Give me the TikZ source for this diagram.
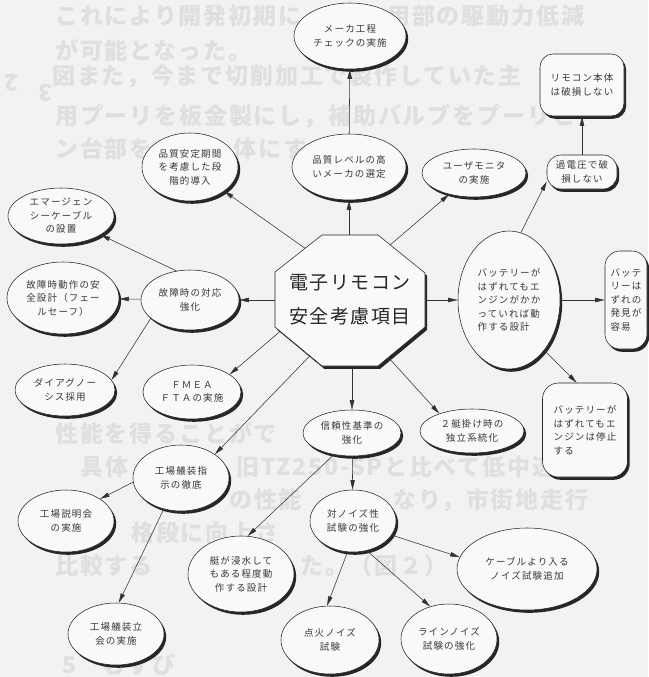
\documentclass[tikz,border=0pt]{standalone}
\usepackage{fontspec}
\usetikzlibrary{shapes.geometric,arrows.meta,calc}
\newfontfamily\jpnode{Noto Sans CJK JP}[LetterSpace=12]
\newfontfamily\jptitle{Noto Sans CJK JP}[LetterSpace=8]
\newfontfamily\jpbg{Noto Sans CJK JP}[LetterSpace=8]
\definecolor{pagebg}{gray}{0.95}
\definecolor{nodefill}{gray}{0.975}
\definecolor{bgtext}{gray}{0.875}
\colorlet{shadowcol}{black!85}
\tikzset{
  nodetext/.style={font=\jpnode\fontsize{9.5}{13.5}\selectfont, text=black!78},
  bub/.style={ellipse, draw=black!85, line width=0.55pt, fill=nodefill, inner sep=0pt,
    align=center, nodetext},
  rbox/.style={rectangle, draw=black!85, line width=0.55pt, fill=nodefill,
    inner sep=0pt, nodetext},
  arr/.style={draw=black!80, line width=0.55pt, -{Triangle[length=9.5pt,width=4.4pt]}},
  bgtxt/.style={font=\jpbg\bfseries\fontsize{23}{33}\selectfont, text=bgtext, inner sep=0pt, anchor=west},
}
% ellipse with a solid offset shadow: options, name, x, y, width, height, text
\newcommand\bubnode[7]{%
  \fill[shadowcol] ({#3+2.2},{#4+2.8}) ellipse [x radius={#5/2}, y radius={#6/2}];
  \node[bub, minimum width=#5, minimum height=#6, #1] (#2) at (#3,#4) {#7};}
% rounded box with a solid offset shadow: options, name, x, y, width, height, radius, text
\newcommand\boxnode[8]{%
  \fill[shadowcol, rounded corners=#7] ({#3-#5/2+2.2},{#4-#6/2+2.8}) rectangle ++(#5,#6);
  \node[rbox, rounded corners=#7, minimum width=#5, minimum height=#6, #1] (#2) at (#3,#4) {#8};}
\begin{document}
\begin{tikzpicture}[x=1pt,y=-1pt]
\useasboundingbox (0,0) rectangle (648,677);
\fill[pagebg] (0,0) rectangle (648,677);

% printed text of the page behind the chart (parts left uncovered)
\node[bgtxt] (bg1a) at (55,16) {これにより開発初期に};
\node[bgtxt] (bg1b) at (387,16) {用部の駆動力低減};
\node[bgtxt] (bg2) at (55,50) {が可能となった。};
\node[bgtxt] (bg3a) at (4,83) {\rotatebox{180}{2}};
\node[bgtxt] (bg3b) at (38,83) {\rotatebox{180}{3}図また，今まで切削加工で製作していた主};
\node[bgtxt] (bg4) at (55,116) {用プーリを板金製にし，補助バルブをプーリと};
\node[bgtxt] (bg5a) at (55,149) {ン台部を};
\node[bgtxt] (bg5b) at (233,149) {体にす};
\node[bgtxt] (bg6) at (55,434) {性能を得ることがで};
\node[bgtxt] (bg7a) at (80,467) {具体};
\node[bgtxt] (bg7b) at (236,467) {旧TZ250-SPと比べて低中速域};
\node[bgtxt] (bg8a) at (229,500) {の性能};
\node[bgtxt] (bg8b) at (393,500) {なり，市街地走行};
\node[bgtxt] (bg9) at (131,533) {格段に向上さ};
\node[bgtxt] (bg10a) at (55,566) {比較する};
\node[bgtxt] (bg10b) at (300,566) {た。（図２）};
\node[bgtxt] (bg11) at (62,665) {5　むすび};

% central octagon with its shadow
\fill[shadowcol] (324.2,237.8)--(380.2,237.8)--(427.2,275.8)--(427.2,329.8)--(380.2,368.8)--(324.2,368.8)--(277.2,329.8)--(277.2,274.8)--cycle;
\coordinate (o1) at (322,235); \coordinate (o2) at (378,235);
\coordinate (o3) at (425,273); \coordinate (o4) at (425,327);
\coordinate (o5) at (378,366); \coordinate (o6) at (322,366);
\coordinate (o7) at (275,327); \coordinate (o8) at (275,272);
\filldraw[fill=nodefill, draw=black!85, line width=0.55pt] (o1)--(o2)--(o3)--(o4)--(o5)--(o6)--(o7)--(o8)--cycle;
\node[font=\jptitle\fontsize{19}{34}\selectfont, align=center, text=black!85] (core) at (350,300) {電子リモコン\\安全考慮項目};

% exits on the octagon edges
\coordinate (on-n) at (349,235);
\coordinate (on-nw) at ($(o8)!0.64!(o1)$);
\coordinate (on-ne) at ($(o2)!0.26!(o3)$);
\coordinate (on-w) at (275,300);
\coordinate (on-e) at (425,300);
\coordinate (on-sw1) at ($(o7)!0.11!(o6)$);
\coordinate (on-sw2) at ($(o7)!0.74!(o6)$);
\coordinate (on-s) at (352,366);
\coordinate (on-se) at ($(o4)!0.78!(o5)$);

% upper branch
\bubnode{}{maker}{350}{36}{112}{66}{メーカ工程\\チェックの実施}
\bubnode{}{qual}{349}{167}{114}{66}{品質レベルの高\\いメーカの選定}
\bubnode{}{phase}{190}{167}{96}{68}{品質安定期間\\を考慮した段\\階的導入}
\bubnode{}{user}{474}{173}{104}{48}{ユーザモニタ\\の実施}

% right branch
\boxnode{align=center}{rbody}{582}{85}{84}{62}{13pt}{リモコン本体\\は破損しない}
\boxnode{align=center}{ovv}{582}{172}{70}{34}{14pt}{過電圧で破\\損しない}
\bubnode{align=left}{bat}{509}{300}{102}{138}{バッテリーが\\はずれてもエ\\ンジンがかか\\っていれば動\\作する設計}
\boxnode{align=left}{sbox}{626}{300}{42}{98}{15pt}{バッテ\\リーは\\ずれの\\発見が\\容易}
\boxnode{align=left}{stop}{585}{430}{85}{94}{16pt}{バッテリーが\\はずれてもエ\\ンジンは停止\\する}

% left branch
\bubnode{}{emg}{61}{216}{106}{56}{エマージェン\\シーケーブル\\の設置}
\bubnode{}{fsafe}{63}{298}{112}{72}{故障時動作の安\\全設計（フェー\\ルセーフ）}
\bubnode{}{fail}{190}{300}{98}{60}{故障時の対応\\強化}
\bubnode{}{diag}{65}{390}{100}{52}{ダイアグノー\\シス採用}
\bubnode{}{fmea}{192}{392}{98}{54}{ＦＭＥＡ\\ＦＴＡの実施}
\bubnode{}{fac1}{181}{478}{96}{66}{工場艤装指\\示の徹底}
\bubnode{}{fac2}{66}{521}{96}{62}{工場説明会\\の実施}
\bubnode{}{fac3}{116}{634}{96}{62}{工場艤装立\\会の実施}

% lower branch
\bubnode{}{rel}{352}{433}{98}{46}{信頼性基準の\\強化}
\bubnode{}{twin}{472}{431}{104}{44}{２艇掛け時の\\独立系統化}
\bubnode{}{noise}{353}{521}{86}{62}{対ノイズ性\\試験の強化}
\bubnode{}{flood}{241}{574}{106}{76}{艇が浸水して\\もある程度動\\作する設計}
\bubnode{}{cable}{527}{569}{140}{82}{ケーブルより入る\\ノイズ試験追加}
\bubnode{}{ign}{330}{640}{98}{68}{点火ノイズ\\試験}
\bubnode{}{line}{449}{639}{96}{70}{ラインノイズ\\試験の強化}

% connectors
\draw[arr] (on-n) -- (qual);
\draw[arr] (qual) -- (maker);
\draw[arr] (on-nw) -- (phase);
\draw[arr] (on-ne) -- (user);
\draw[arr] (on-w) -- (fail);
\draw[arr] (fail) -- (fsafe);
\draw[arr] (fail.115) -- (emg);
\draw[arr] (fail.-155) -- (diag.12);
\draw[arr] (on-sw1) -- (fmea.25);
\draw[arr] (on-sw2) -- (fac1.35);
\draw[arr] (fac1.185) -- (fac2.33);
\draw[arr] (fac1.-119) -- (fac3.85);
\draw[arr] (on-s) -- (rel);
\draw[arr] (on-se) -- (twin.152);
\draw[arr] (on-e) -- (bat);
\draw[arr] (bat.80) -- (ovv.195);
\draw[arr] (ovv) -- (rbody);
\draw[arr] (bat) -- (sbox);
\draw[arr] (bat.-55) -- (stop.100);
\draw[arr] (rel) -- (noise);
\draw[arr] (rel.-130) -- (flood.80);
\draw[arr] (noise.-20) -- (cable.170);
\draw[arr] (noise.-100) -- (ign.95);
\draw[arr] (noise.-65) -- (line.120);
\end{tikzpicture}
\end{document}
